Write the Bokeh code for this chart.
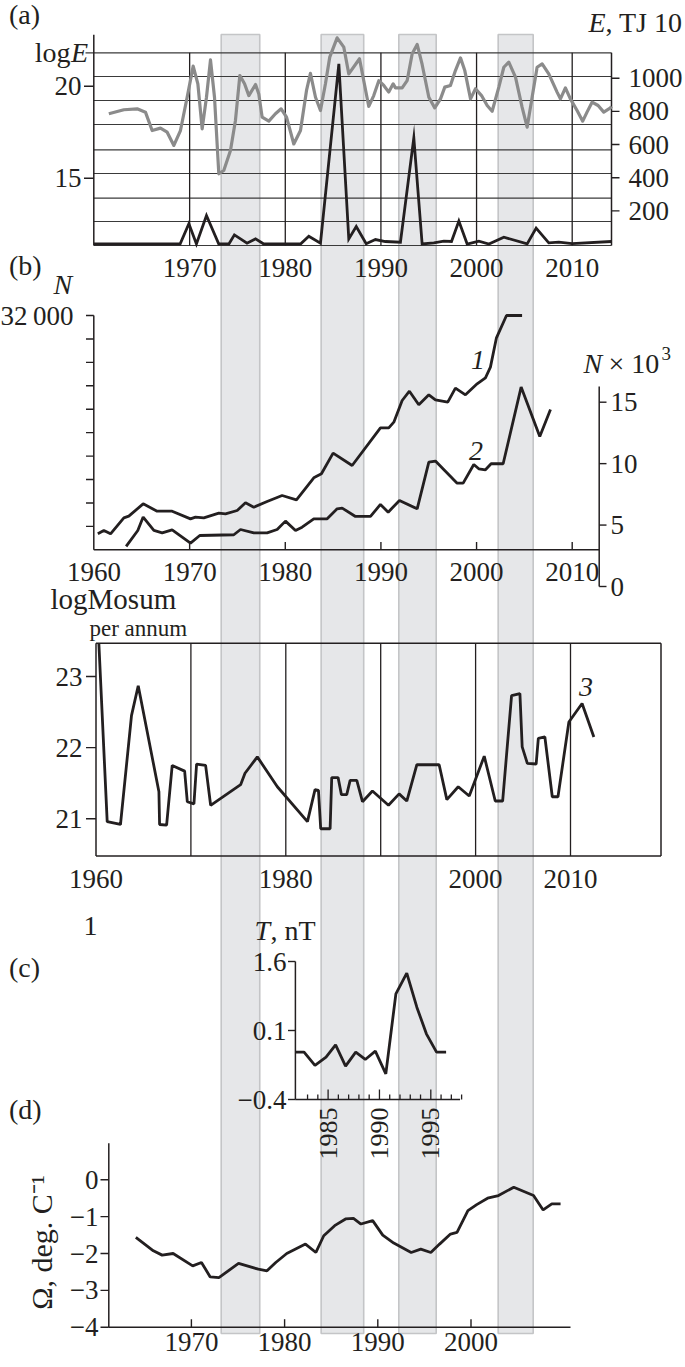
import numpy as np
from bokeh.plotting import figure
from bokeh.models import Range1d
from bokeh.embed import file_html
from bokeh.resources import INLINE
from bokeh.core.properties import value

# ---------------- data ----------------
band_start = [1973.3, 1983.75, 1991.87, 2002.26]
band_end = [1977.33, 1988.2, 1995.78, 2005.92]

# (a) log E (grey) and E, TJ (black)
loge_year = [1961.55, 1963.12, 1964.51, 1965.38, 1966.08, 1966.95, 1967.65, 1968.35, 1969.04, 1969.74,
             1970.37, 1970.86, 1971.31, 1971.76, 1972.18, 1972.60, 1973.05, 1973.57, 1974.27, 1974.79,
             1975.25, 1975.74, 1976.19, 1976.89, 1977.23, 1977.58, 1978.28, 1978.97, 1979.57, 1980.13,
             1980.89, 1981.59, 1982.22, 1982.63, 1983.16, 1983.68, 1984.20, 1984.65, 1985.42, 1986.12,
             1986.64, 1987.76, 1988.73, 1989.25, 1989.78, 1990.30, 1990.82, 1991.28, 1991.52, 1992.22,
             1992.74, 1993.27, 1993.79, 1994.31, 1995.01, 1995.63, 1996.23, 1996.68, 1997.27, 1997.79,
             1998.32, 1998.77, 1999.37, 1999.89, 2000.52, 2001.11, 2001.63, 2002.33, 2002.85, 2003.37,
             2004.07, 2004.76, 2005.29, 2005.81, 2006.33, 2006.86, 2007.55, 2008.42, 2008.77, 2009.29,
             2009.81, 2010.51, 2011.10, 2011.55, 2012.08, 2012.71, 2013.30, 2014.00, 2014.10]
loge_val = [18.50, 18.72, 18.77, 18.59, 17.59, 17.72, 17.50, 16.78, 17.59, 19.40,
            21.09, 20.13, 17.68, 19.40, 21.43, 19.40, 15.24, 15.42, 16.50, 18.14,
            20.58, 20.13, 19.49, 20.09, 19.58, 18.32, 18.10, 18.50, 18.77, 18.32,
            16.86, 17.59, 19.77, 20.70, 19.40, 18.68, 20.13, 21.58, 22.63, 22.12,
            20.67, 21.49, 18.90, 19.49, 20.30, 20.04, 19.68, 20.13, 19.91, 19.91,
            20.30, 21.76, 22.27, 21.18, 19.40, 18.82, 19.31, 19.95, 20.04, 20.85,
            21.54, 20.85, 19.31, 19.86, 19.49, 18.95, 18.64, 19.95, 21.03, 21.31,
            20.49, 18.86, 17.77, 19.40, 21.03, 21.21, 20.67, 19.68, 19.31, 19.91,
            19.31, 18.68, 18.10, 18.59, 19.13, 18.95, 18.59, 18.82, 18.90]
e_year = [1960.0, 1969.0, 1969.92, 1970.71, 1971.76, 1973.05, 1974.1, 1974.68, 1976.0, 1976.89,
          1977.75, 1981.59, 1982.46, 1983.68, 1985.60, 1986.64, 1987.42, 1988.46, 1989.43, 1990.47,
          1992.04, 1993.44, 1994.31, 1995.53, 1996.58, 1997.38, 1998.15, 1999.02, 2000.24, 2001.29,
          2002.85, 2005.29, 2006.23, 2007.55, 2008.60, 2009.99, 2014.10]
e_val = [0, 0, 122, 0, 172, 0, 0, 55, 5, 31,
         0, 0, 47, 5, 1086, 31, 105, 2, 27, 15,
         11, 640, 0, 7, 17, 15, 138, 0, 17, 0,
         41, 1, 96, 7, 11, 2, 15]
loge_ticks = [15, 20]
e_ticks = [200, 400, 600, 800, 1000]
years_a = [1970, 1980, 1990, 2000, 2010]

# (b) N: curve 1 (left axis), curve 2 (right axis, x10^3)
n1_year = [1960.40, 1961.03, 1961.73, 1963.12, 1963.64, 1965.14, 1966.60, 1968.17, 1970.09, 1970.61,
           1971.48, 1973.05, 1973.75, 1974.97, 1975.84, 1976.71, 1978.10, 1979.67, 1981.17, 1982.98,
           1983.78, 1985.00, 1986.99, 1989.95, 1990.82, 1991.35, 1992.22, 1992.98, 1993.96, 1995.01,
           1995.70, 1996.99, 1997.79, 1998.84, 2000.06, 2000.93, 2001.45, 2002.08, 2003.13, 2004.76]
n1_val = [2181, 2636, 2181, 4366, 4593, 6277, 5276, 5276, 4229, 4457,
          4366, 5003, 4913, 5367, 6419, 5822, 6597, 7416, 6828, 9834,
          10380, 13202, 11513, 16658, 16658, 17431, 20391, 21665, 19800, 21165,
          20482, 20163, 22074, 21165, 22666, 23490, 24946, 28953, 32000, 32000]
n2_year = [1963.36, 1964.58, 1965.14, 1966.26, 1967.13, 1968.17, 1970.09, 1971.06, 1974.62, 1975.32,
           1976.71, 1978.10, 1979.15, 1980.02, 1981.07, 1981.76, 1982.98, 1984.38, 1985.42, 1985.95,
           1987.34, 1988.91, 1989.95, 1990.76, 1991.94, 1993.79, 1995.01, 1995.70, 1997.97, 1998.60,
           1999.71, 2000.23, 2000.93, 2001.52, 2002.78, 2004.66, 2006.61, 2007.73]
n2_val = [3.26, 4.56, 5.65, 4.56, 4.37, 4.61, 3.53, 4.15, 4.21, 4.64,
          4.37, 4.37, 4.64, 5.32, 4.56, 4.83, 5.51, 5.51, 6.32, 6.38,
          5.70, 5.70, 6.68, 6.05, 7.00, 6.32, 10.12, 10.21, 8.41, 8.41,
          9.93, 9.58, 9.50, 9.99, 9.99, 16.23, 12.21, 14.41]
n1_ticks = [3200, 6400, 9600, 12800, 16000, 19200, 22400, 25600, 28800, 32000]
n2_ticks = [0, 5, 10, 15]
years_b = [1960, 1970, 1980, 1990, 2000, 2010]

# (b) log Mosum per annum, curve 3
mos_year = [1960.30, 1961.18, 1962.58, 1963.74, 1964.45, 1966.63, 1966.70, 1967.44, 1968.03, 1969.34,
            1969.62, 1970.32, 1970.60, 1971.55, 1972.08, 1975.24, 1975.70, 1977.00, 1979.11, 1982.28,
            1983.08, 1983.44, 1983.68, 1984.67, 1984.84, 1985.51, 1985.86, 1986.42, 1986.78, 1987.48,
            1988.08, 1989.13, 1990.82, 1991.94, 1992.75, 1993.81, 1996.16, 1996.97, 1998.17, 1999.33,
            2000.91, 2002.07, 2002.85, 2003.79, 2004.67, 2004.91, 2005.45, 2006.38, 2006.61, 2007.30,
            2008.08, 2008.68, 2009.83, 2011.22, 2012.46]
mos_val = [23.47, 20.96, 20.92, 22.45, 22.87, 21.38, 20.92, 20.91, 21.75, 21.67,
           21.24, 21.21, 21.77, 21.75, 21.19, 21.48, 21.64, 21.87, 21.45, 20.96,
           21.41, 21.40, 20.86, 20.86, 21.58, 21.58, 21.34, 21.34, 21.54, 21.54,
           21.24, 21.39, 21.19, 21.35, 21.25, 21.76, 21.76, 21.27, 21.45, 21.32,
           21.88, 21.25, 21.25, 22.73, 22.76, 22.01, 21.78, 21.77, 22.13, 22.15,
           21.31, 21.31, 22.36, 22.62, 22.15]
mos_ticks = [21, 22, 23]
mos_grid_years = [1970, 1980, 1990, 2000, 2010]
mos_label_years = [1960, 1980, 2000, 2010]

# (c) T, nT
t_year = [1981.82, 1982.66, 1983.72, 1984.80, 1985.73, 1986.70, 1987.69, 1988.62, 1989.60, 1990.62,
          1991.60, 1992.66, 1993.64, 1994.57, 1995.56, 1996.49]
t_val = [0.286, 0.286, 0.093, 0.213, 0.392, 0.083, 0.286, 0.180, 0.300, -0.028,
         1.131, 1.431, 0.938, 0.552, 0.286, 0.286]
t_ticks = [-0.4, 0.6, 1.6]
t_tick_labels = ["\u22120.4", "0.1", "1.6"]
t_year_labels = [1985, 1990, 1995]
t_minor_years = list(range(1983, 1999))

# (d) Omega, deg. C^-1
om_year = [1964.04, 1965.92, 1966.86, 1968.04, 1970.14, 1971.08, 1972.02, 1972.95, 1975.06, 1977.18,
           1978.11, 1979.05, 1980.23, 1982.24, 1983.36, 1984.20, 1985.37, 1986.54, 1987.39, 1988.19,
           1989.45, 1990.53, 1991.71, 1993.58, 1994.61, 1995.69, 1996.63, 1997.80, 1998.50, 1999.67,
           2000.61, 2001.78, 2002.95, 2004.59, 2006.71, 2007.74, 2008.67, 2009.61]
om_val = [-1.563, -1.926, -2.044, -2.0, -2.335, -2.244, -2.635, -2.653, -2.27, -2.426,
          -2.471, -2.244, -2.0, -1.745, -1.972, -1.518, -1.245, -1.063, -1.045, -1.2,
          -1.109, -1.5, -1.718, -1.972, -1.881, -1.972, -1.745, -1.472, -1.427, -0.836,
          -0.673, -0.5, -0.428, -0.2, -0.428, -0.818, -0.655, -0.655]
om_ticks = [0, -1, -2, -3, -4]
om_year_ticks = [1970, 1980, 1990, 2000]

# ---------------- layout ----------------
W, H = 685, 1367
X0, X1, Y0, Y1 = 0, W, 0, H
FONT = "Liberation Serif"
INK = "#231f20"
GREY = "#8b8b8b"
TS = 27   # tick label size
LS = 28   # title size


def xrange_(v1, p1, v2, p2):
    k = (v2 - v1) / (p2 - p1)
    return Range1d(start=v1 + (X0 - p1) * k, end=v1 + (X1 - p1) * k)


def yrange_(v1, p1, v2, p2):
    k = (v2 - v1) / (p2 - p1)
    return Range1d(start=v1 + (Y1 - p1) * k, end=v1 + (Y0 - p1) * k)


p = figure(width=W, height=H, x_range=Range1d(X0, X1), y_range=Range1d(Y1, Y0),
           toolbar_location=None, output_backend="svg",
           x_axis_location=None, y_axis_location=None, min_border=0,
           outline_line_color=None, background_fill_color="white", border_fill_color="white")
p.grid.visible = False

p.extra_x_ranges = {
    "yr": xrange_(1960, 93.5, 2010, 571.7),
    "xm": xrange_(1960, 95.5, 2010, 570.0),
    "xc": xrange_(1985, 327.6, 1995, 430.3),
    "xd": xrange_(1970, 190.9, 2000, 470.5),
}
p.extra_y_ranges = {
    "loge": yrange_(20, 85.7, 15, 177.7),
    "e": yrange_(0, 243.5, 1000, 77.7),
    "n1": yrange_(0, 549.3, 32000, 315.0),
    "n2": yrange_(0, 586.0, 15, 401.7),
    "lm": yrange_(21, 818.3, 23, 676.0),
    "tc": yrange_(-0.4, 1099.0, 1.6, 961.0),
    "om": yrange_(0, 1179.3, -4, 1326.7),
}


def rn(xr=None, yr=None):
    kw = {}
    if xr:
        kw["x_range_name"] = xr
    if yr:
        kw["y_range_name"] = yr
    return kw


def txt(x, y, s, size=TS, align="left", italic=False, xr=None, yr=None, angle=0.0,
        baseline="middle", color=INK):
    p.text(x=list(x), y=list(y), text=list(s), text_font=value(FONT),
           text_font_size=f"{size}px", text_align=align, text_baseline=baseline,
           text_font_style="italic" if italic else "normal", text_color=color,
           angle=angle, **rn(xr, yr))


def seg(x0, y0, x1, y1, w=1.4, color=INK, xr=None, yr=None):
    p.segment(x0=list(x0), y0=list(y0), x1=list(x1), y1=list(y1),
              line_color=color, line_width=w, **rn(xr, yr))


# grey bands through all panels
p.quad(left=band_start, right=band_end, top=34, bottom=1333, fill_color="#e6e7e9",
       line_color="#c4c5c7", line_width=1.6, x_range_name="yr")

# ================= panel (a) =================
grid_a = [52.3, 76.0, 100.0, 124.0, 149.3, 173.0, 197.7, 221.0, 245.0]
seg([93.3] * len(grid_a), grid_a, [611] * len(grid_a), grid_a, w=1.2, color="#3a3a3a")
seg([85], [52.3], [93.3], [52.3], w=1.2, color="#3a3a3a")
seg(years_a, [52.3] * 5, years_a, [245] * 5, w=1.3, xr="yr")
seg([93.3], [34.3], [93.3], [245], w=1.5)
seg([611], [52.3], [611], [245], w=1.5)
seg([83.5] * 2, loge_ticks, [93.3] * 2, loge_ticks, w=1.4, yr="loge")
seg([611] * 5, e_ticks, [619] * 5, e_ticks, w=1.4, yr="e")
p.line(loge_year, loge_val, line_color=GREY, line_width=3.2, line_join="round", **rn("yr", "loge"))
p.line(e_year, e_val, line_color=INK, line_width=2.8, line_join="miter", **rn("yr", "e"))
txt([81] * 2, loge_ticks, [str(v) for v in loge_ticks], align="right", yr="loge")
txt([628] * 5, e_ticks, [str(v) for v in e_ticks], yr="e")
txt(years_a, [267.5] * 5, [str(v) for v in years_a], align="center", xr="yr")
txt([70], [52], ["log"], align="right", size=LS)
txt([70.5], [52], ["E"], italic=True, size=LS)
txt([8.5], [14], ["(a)"], size=LS)
txt([588], [22], ["E"], italic=True, size=LS)
txt([605], [22], [", TJ 10"], size=LS)

# ================= panel (b) upper =================
txt([8.5], [265], ["(b)"], size=LS)
txt([53], [284], ["N"], italic=True, size=LS)
seg([93.3], [315], [93.3], [549.3], w=1.5)
seg([93.3], [549.3], [598.7], [549.3], w=1.5)
seg([85.5] * len(n1_ticks), n1_ticks, [93.3] * len(n1_ticks), n1_ticks, w=1.4, yr="n1")
txt([73], [32000], ["32\u2009000"], align="right", yr="n1")
seg(years_b[1:], [549.3] * 5, years_b[1:], [541.5] * 5, w=1.4, xr="yr")
txt(years_b, [571] * 6, [str(v) for v in years_b], align="center", xr="yr")
seg([598.7], [386], [598.7], [586], w=1.5)
seg([598.7] * 4, n2_ticks, [606] * 4, n2_ticks, w=1.4, yr="n2")
txt([610] * 4, n2_ticks, [str(v) for v in n2_ticks], yr="n2")
p.line(n1_year, n1_val, line_color=INK, line_width=2.8, **rn("yr", "n1"))
p.line(n2_year, n2_val, line_color=INK, line_width=2.8, **rn("yr", "n2"))
txt([477.5], [359], ["1"], italic=True, align="center", size=LS)
txt([475.5], [450], ["2"], italic=True, align="center", size=LS)
txt([583], [363], ["N"], italic=True, size=LS)
txt([608], [363], ["\u00d7 10"], size=LS)
txt([661], [353], ["3"], size=19)

# ================= panel (b) lower: log Mosum =================
txt([50], [598], ["logMosum"], size=29)
txt([89], [628], ["per annum"], size=23)
mos_left, mos_right, mos_top, mos_bot = 95.5, 660.5, 642.7, 855.5
seg([mos_left, mos_left, mos_right, mos_left], [mos_top, mos_top, mos_top, mos_bot],
    [mos_right, mos_left, mos_right, mos_right], [mos_top, mos_bot, mos_bot, mos_bot], w=1.5)
seg(mos_grid_years, [mos_top] * 5, mos_grid_years, [mos_bot] * 5, w=1.3, xr="xm")
seg([85.5] * 3, mos_ticks, [mos_left] * 3, mos_ticks, w=1.4, yr="lm")
txt([82] * 3, mos_ticks, [str(v) for v in mos_ticks], align="right", yr="lm")
txt(mos_label_years, [878] * 4, [str(v) for v in mos_label_years], align="center", xr="xm")
p.line(mos_year, mos_val, line_color=INK, line_width=2.8, **rn("xm", "lm"))
txt([585.5], [686], ["3"], italic=True, align="center", size=LS)

# ================= panel (c) =================
txt([90], [925], ["1"], align="center", size=LS)
txt([8.5], [967], ["(c)"], size=LS)
txt([8.5], [1109], ["(d)"], size=LS)
seg([294.9], [961], [294.9], [1099], w=1.5)
seg([294.9], [1099], [459.6], [1099], w=1.5)
seg([287.5] * 3, t_ticks, [294.9] * 3, t_ticks, w=1.4, yr="tc")
txt([286] * 3, t_ticks, t_tick_labels, align="right", yr="tc")
minor_top = [1089 if y in t_year_labels else 1094 for y in t_minor_years]
seg(t_minor_years, [1099] * len(t_minor_years), t_minor_years, minor_top, w=1.3, xr="xc")
txt(t_year_labels, [1133] * 3, [str(v) for v in t_year_labels], align="center", xr="xc",
    angle=np.pi / 2, size=26)
p.line(t_year, t_val, line_color=INK, line_width=2.8, **rn("xc", "tc"))
txt([254], [930], ["T"], italic=True, size=LS)
txt([270], [930], [", nT"], size=LS)

# ================= panel (d) =================
seg([108.3], [1142.7], [108.3], [1326.7], w=1.5)
seg([108.3], [1326.7], [570], [1326.7], w=1.5)
seg([100] * 5, om_ticks, [108.3] * 5, om_ticks, w=1.4, yr="om")
txt([98] * 5, om_ticks, ["0" if v == 0 else "\u2212" + str(-v) for v in om_ticks], align="right", yr="om")
seg(om_year_ticks, [1326.7] * 4, om_year_ticks, [1318.7] * 4, w=1.4, xr="xd")
txt(om_year_ticks, [1341] * 4, [str(v) for v in om_year_ticks], align="center", xr="xd")
p.line(om_year, om_val, line_color=INK, line_width=2.8, **rn("xd", "om"))
txt([41], [1242], ["\u03a9, deg. C\u207b\u00b9"], align="center", angle=np.pi / 2, size=30)

open("out.html", "w").write(file_html(p, INLINE))
